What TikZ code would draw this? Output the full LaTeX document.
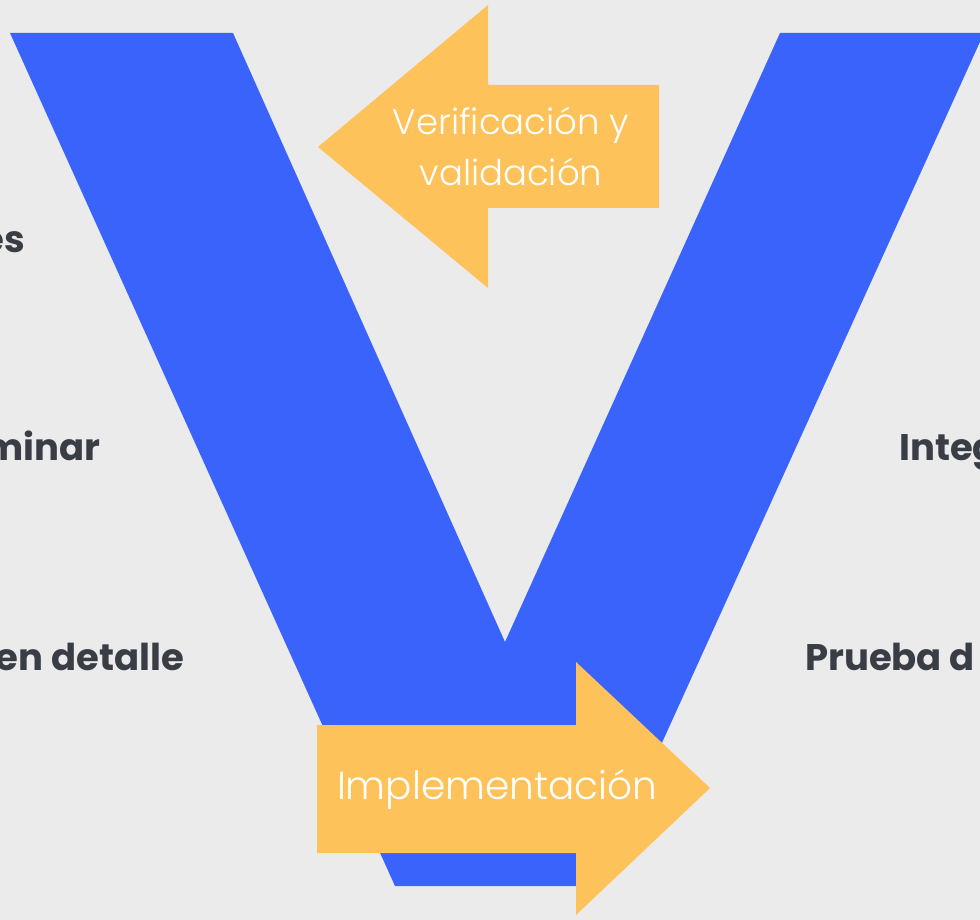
\documentclass[tikz,border=0pt]{standalone}
\usepackage{fontspec}
\setmainfont{Poppins}
\newfontfamily\lightfont{Poppins Light}
\definecolor{bgc}{HTML}{EBEBEB}
\definecolor{vblue}{HTML}{3A63FC}
\definecolor{vyellow}{HTML}{FEC25A}
\definecolor{darktext}{HTML}{383D46}
\tikzset{
  vshape/.style={fill=vblue, draw=none},
  arrowshape/.style={fill=vyellow, draw=none},
  arrowtext/.style={text=white, font=\lightfont\fontsize{35.5}{51}\selectfont, align=center, inner sep=0pt},
  phase/.style={text=darktext, font=\bfseries\fontsize{37}{40}\selectfont, inner sep=0pt},
}
\begin{document}
\begin{tikzpicture}[x=1pt, y=-1pt]
\fill[bgc] (0,0) rectangle (980,920);
\useasboundingbox (0,0) rectangle (980,920);
% V shape
\fill[vshape] (10,33) -- (233,33) -- (505,642) -- (780,33) -- (984,33) -- (597,886) -- (395,886) -- cycle;
% top arrow (left)
\fill[arrowshape] (659,85) -- (488,85) -- (488,5) -- (318,147) -- (488,288) -- (488,208) -- (659,208) -- cycle;
% bottom arrow (right)
\fill[arrowshape] (317,725) -- (576,725) -- (576,662) -- (710,788) -- (576,915) -- (576,853) -- (317,853) -- cycle;
% arrow texts
\node[arrowtext] (vv) at (511,146) {Verificación y\\validación};
\node[arrowtext, font=\lightfont\fontsize{39}{48}\selectfont] (impl) at (497,789) {Implementación};
% phase labels (cut by the page edge, as in the reference)
\node[phase, anchor=base east] (l1) at (25,253) {es};
\node[phase, anchor=base east] (l2) at (101,460) {minar};
\node[phase, anchor=base east] (l3) at (184,670) {en detalle};
\node[phase, anchor=base west] (r1) at (899,460) {Integ};
\node[phase, anchor=base west] (r2) at (805,670) {Prueba d};
\end{tikzpicture}
\end{document}
